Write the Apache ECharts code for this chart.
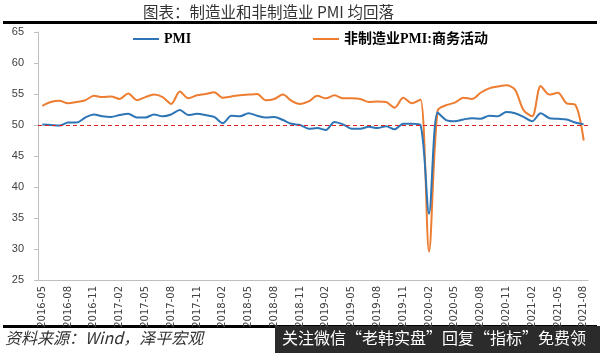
<!DOCTYPE html>
<html>
<head>
<meta charset="utf-8">
<script src="https://cdn.jsdelivr.net/npm/echarts@6/dist/echarts.min.js"></script>
<style>
  html, body { margin: 0; padding: 0; background: #fff; }
  #main { width: 600px; height: 353px; }
</style>
</head>
<body>
<div id="main"></div>
<script>
// monthly, 2016-05 .. 2021-08
const months = [];
for (let y = 2016; y <= 2021; y++) {
  for (let m = 1; m <= 12; m++) {
    if (y === 2016 && m < 5) continue;
    if (y === 2021 && m > 8) continue;
    months.push(y + "-" + String(m).padStart(2, "0"));
  }
}

const pmi = [
  50.1, 50.0, 49.9, 50.4, 50.4, 51.2, 51.7, 51.4,
  51.3, 51.6, 51.8, 51.2, 51.2, 51.7, 51.4, 51.7, 52.4, 51.6, 51.8, 51.6,
  51.3, 50.3, 51.5, 51.4, 51.9, 51.5, 51.2, 51.3, 50.8, 50.2, 50.0, 49.4,
  49.5, 49.2, 50.5, 50.1, 49.4, 49.4, 49.7, 49.5, 49.8, 49.3, 50.2, 50.2,
  50.0, 35.7, 52.0, 50.8, 50.6, 50.9, 51.1, 51.0, 51.5, 51.4, 52.1, 51.9,
  51.3, 50.6, 51.9, 51.1, 51.0, 50.9, 50.4, 50.1
];

const nonMfg = [
  53.1, 53.7, 53.9, 53.5, 53.7, 54.0, 54.7, 54.5,
  54.6, 54.2, 55.1, 54.0, 54.5, 54.9, 54.5, 53.4, 55.4, 54.3, 54.8, 55.0,
  55.3, 54.4, 54.6, 54.8, 54.9, 55.0, 54.0, 54.2, 54.9, 53.9, 53.4, 53.8,
  54.7, 54.3, 54.8, 54.3, 54.3, 54.2, 53.7, 53.8, 53.7, 52.8, 54.4, 53.5,
  54.1, 29.6, 52.3, 53.2, 53.6, 54.4, 54.2, 55.2, 55.9, 56.2, 56.4, 55.7,
  52.4, 51.4, 56.3, 54.9, 55.2, 53.5, 53.3, 47.5
];

const chart = echarts.init(document.getElementById("main"));

const legendText = {
  fontFamily: "Liberation Serif, Noto Sans CJK SC, serif",
  fontWeight: "bold",
  fontSize: 14,
  color: "#000"
};

chart.setOption({
  animation: false,
  title: {
    text: "图表：制造业和非制造业 PMI 均回落",
    left: 138,
    top: -1,
    textStyle: { fontFamily: "Noto Sans CJK SC", fontWeight: "normal", fontSize: 15.5, color: "#333" }
  },
  legend: [
    {
      data: ["PMI"], left: 128, top: 27, itemWidth: 26, itemHeight: 2,
      icon: "rect", itemGap: 4, textStyle: legendText
    },
    {
      data: ["非制造业PMI:商务活动"], left: 308, top: 27, itemWidth: 26, itemHeight: 2,
      icon: "rect", textStyle: legendText
    }
  ],
  grid: { left: 38, right: 12, top: 32, bottom: 73 },
  xAxis: {
    type: "category",
    data: months,
    boundaryGap: true,
    axisLine: { lineStyle: { color: "#bfbfbf" } },
    axisTick: { interval: 2, alignWithLabel: true, lineStyle: { color: "#bfbfbf" } },
    axisLabel: { interval: 2, rotate: 90, fontSize: 10, color: "#404040", margin: 6, fontFamily: "DejaVu Sans" }
  },
  yAxis: {
    type: "value",
    min: 25,
    max: 65,
    interval: 5,
    splitLine: { show: false },
    axisLine: { show: true, lineStyle: { color: "#bfbfbf" } },
    axisTick: { show: true, length: 4, lineStyle: { color: "#bfbfbf" } },
    axisLabel: { fontSize: 11, color: "#404040", margin: 14 }
  },
  series: [
    {
      name: "PMI",
      type: "line",
      data: pmi,
      symbol: "none",
      smooth: 0.3,
      color: "#2e75b6",
      lineStyle: { width: 2 },
      z: 3,
      markLine: {
        silent: true,
        symbol: "none",
        label: { show: false },
        lineStyle: { color: "#e02020", type: [4, 3], width: 1 },
        data: [{ yAxis: 50 }]
      }
    },
    {
      name: "非制造业PMI:商务活动",
      type: "line",
      data: nonMfg,
      symbol: "none",
      smooth: 0.3,
      color: "#ed7d31",
      lineStyle: { width: 2 },
      z: 2
    }
  ],
  graphic: [
    { type: "rect", shape: { x: 3, y: 21, width: 594, height: 3 }, style: { fill: "#000" } },
    { type: "rect", shape: { x: 3, y: 325, width: 594, height: 3 }, style: { fill: "#000" } },
    {
      type: "text", left: 5, top: 330,
      style: { text: "资料来源：Wind，泽平宏观", fontSize: 16, fontStyle: "italic", fill: "#333", fontFamily: "Noto Sans CJK SC" }
    },
    { type: "rect", shape: { x: 275, y: 326, width: 325, height: 27 }, style: { fill: "#2b2b2b" } },
    {
      type: "text", left: 282, top: 330,
      style: { text: "关注微信“老韩实盘”回复“指标”免费领", fontSize: 16, fill: "#fff", fontFamily: "Noto Sans CJK SC" }
    }
  ]
});
</script>
</body>
</html>
